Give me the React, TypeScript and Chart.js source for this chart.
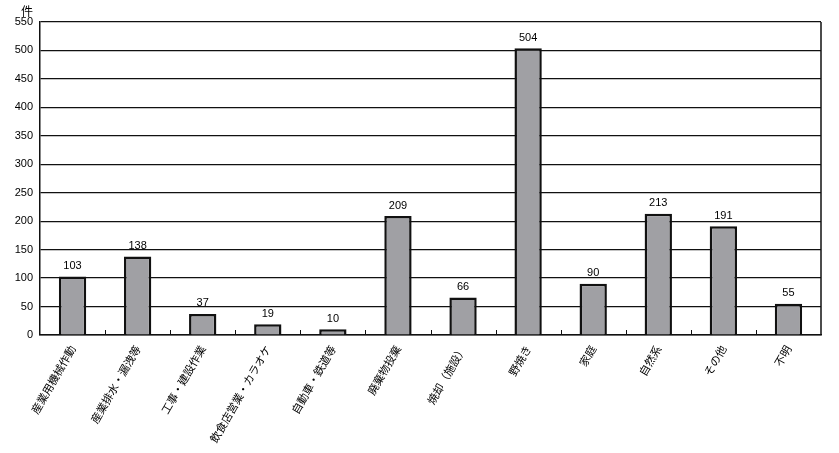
import React, { useEffect, useRef } from "react";
import { Chart, registerables } from "chart.js";

Chart.register(...registerables);

const categories = [
  "産業用機械作動",
  "産業排水・漏洩等",
  "工事・建設作業",
  "飲食店営業・カラオケ",
  "自動車・鉄道等",
  "廃棄物投棄",
  "焼却（施設）",
  "野焼き",
  "家庭",
  "自然系",
  "その他",
  "不明",
];
const counts = [103, 138, 37, 19, 10, 209, 66, 504, 90, 213, 191, 55];
const yUnit = "件";
const yMax = 550;
const yStep = 50;

const valueLabels = {
  id: "valueLabels",
  afterDatasetsDraw(chart: any) {
    const ctx = chart.ctx;
    const meta = chart.getDatasetMeta(0);
    ctx.save();
    ctx.fillStyle = "#000";
    ctx.font = "11px 'Liberation Sans', Arial, sans-serif";
    ctx.textAlign = "center";
    ctx.textBaseline = "bottom";
    meta.data.forEach((bar: any, i: number) => {
      ctx.fillText(String(counts[i]), bar.x, bar.y - 5);
    });
    const xs = chart.scales.x;
    const area = chart.chartArea;
    ctx.strokeStyle = "#111";
    ctx.lineWidth = 1;
    for (let i = 1; i < categories.length; i++) {
      const x = Math.round((xs.getPixelForTick(i - 1) + xs.getPixelForTick(i)) / 2) + 0.5;
      ctx.beginPath();
      ctx.moveTo(x, area.bottom);
      ctx.lineTo(x, area.bottom - 5);
      ctx.stroke();
    }
    // right border
    ctx.lineWidth = 1.5;
    ctx.beginPath();
    ctx.moveTo(area.right, area.top);
    ctx.lineTo(area.right, area.bottom);
    ctx.stroke();
    // unit label
    ctx.font = "12px 'Noto Sans CJK JP', sans-serif";
    ctx.textAlign = "center";
    ctx.textBaseline = "bottom";
    ctx.fillText(yUnit, area.left - 13, area.top - 5);
    ctx.restore();
  },
};

export default function App() {
  const ref = useRef<HTMLCanvasElement | null>(null);
  useEffect(() => {
    if (!ref.current) return;
    const chart = new Chart(ref.current, {
      type: "bar",
      data: {
        labels: categories,
        datasets: [
          {
            data: counts,
            backgroundColor: "#a0a0a4",
            borderColor: "#111",
            borderWidth: 2.5,
            barPercentage: 0.42,
            categoryPercentage: 1,
          },
        ],
      },
      options: {
        animation: false,
        responsive: false,
        maintainAspectRatio: false,
        layout: { padding: { top: 22, right: 18, left: 0, bottom: 0 } },
        plugins: { legend: { display: false }, tooltip: { enabled: false } },
        scales: {
          x: {
            afterFit(scale: any) {
              scale.height = 118;
            },
            grid: { display: false, drawTicks: false },
            border: { color: "#111", width: 1.5 },
            ticks: {
              color: "#000",
              font: { family: "'Noto Sans CJK JP', sans-serif", size: 11 },
              maxRotation: 60,
              minRotation: 60,
              autoSkip: false,
              padding: 8,
            },
          },
          y: {
            min: 0,
            max: yMax,
            afterFit(scale: any) {
              scale.width = 40;
            },
            grid: { color: "#111", lineWidth: 1.2, drawTicks: false },
            border: { color: "#111", width: 1.5 },
            ticks: {
              stepSize: yStep,
              color: "#000",
              font: { family: "'Liberation Sans', Arial, sans-serif", size: 11 },
              padding: 7,
            },
          },
        },
      },
      plugins: [valueLabels],
    });
    return () => chart.destroy();
  }, []);
  return (
    <div style={{ position: "fixed", left: 0, top: 0, width: 839, height: 453, background: "#fff" }}>
      <canvas ref={ref} width={839} height={453} />
    </div>
  );
}
